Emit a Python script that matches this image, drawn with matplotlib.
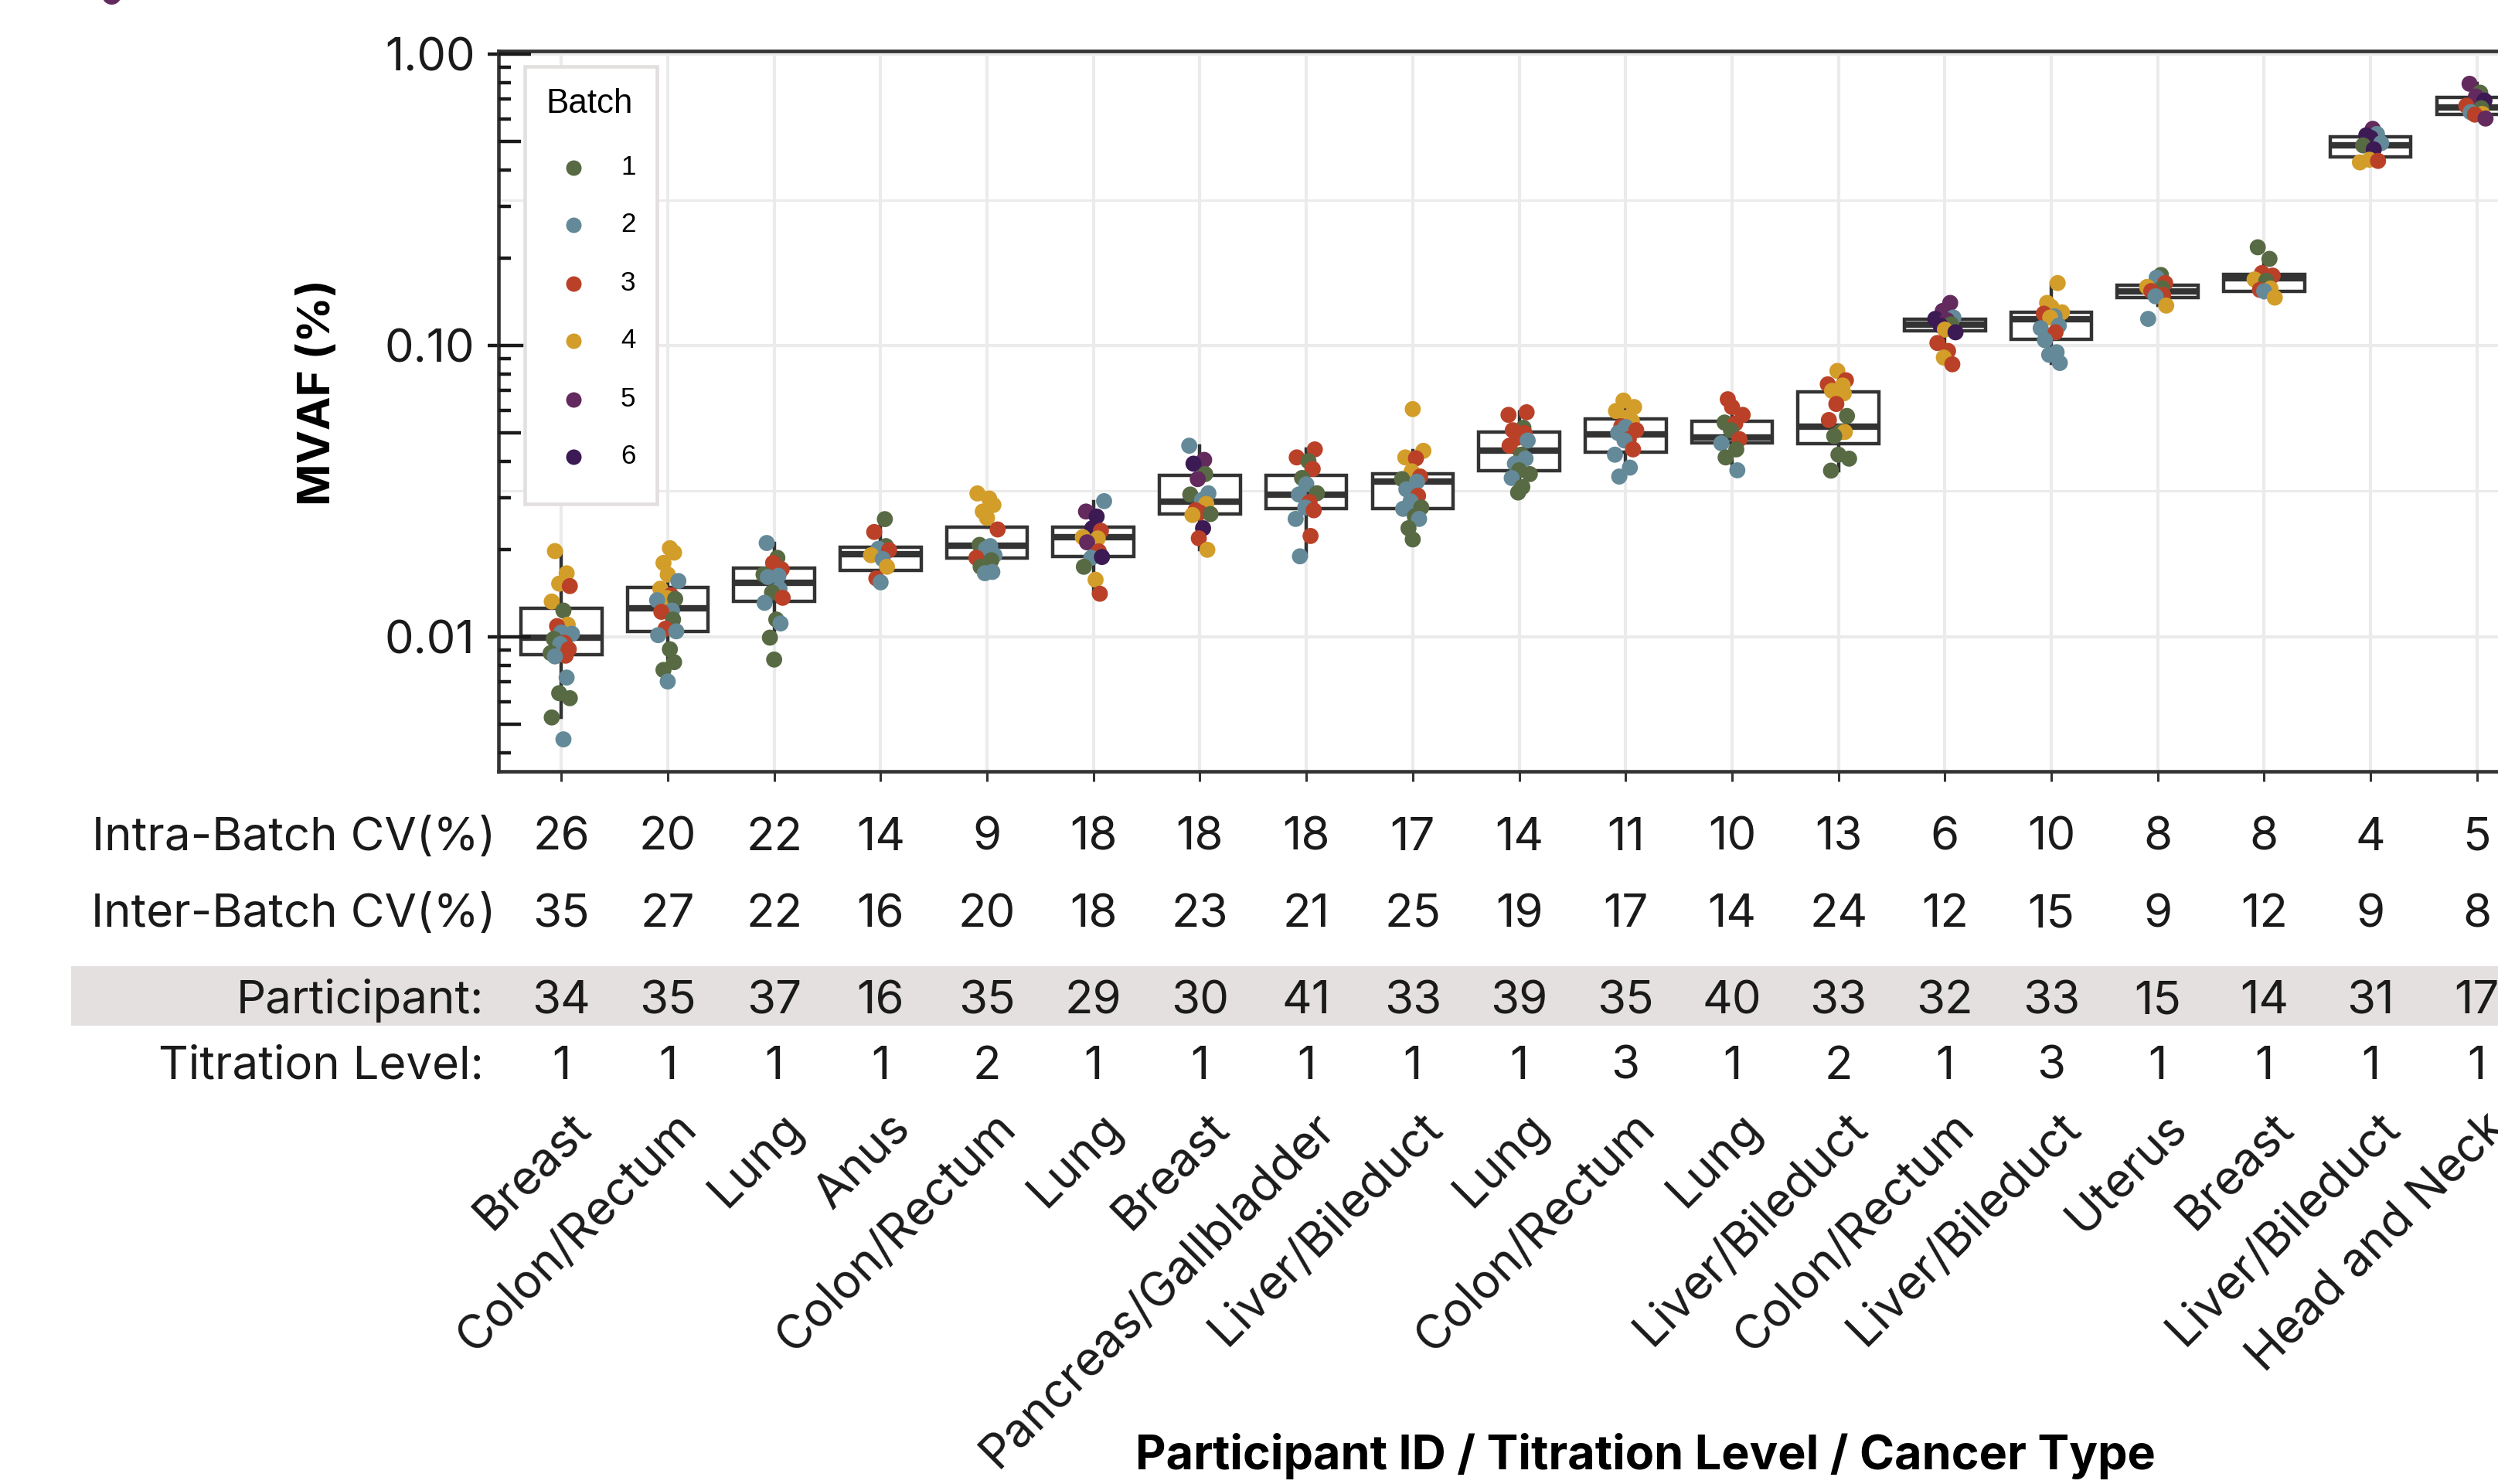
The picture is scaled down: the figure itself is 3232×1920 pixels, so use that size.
import matplotlib
matplotlib.use("Agg")
import matplotlib.pyplot as plt
from matplotlib.patches import Rectangle
from matplotlib.lines import Line2D
from matplotlib.ticker import FixedLocator, NullFormatter
from matplotlib.transforms import blended_transform_factory

W, H, DPI = 3232, 1920, 200
FONT = "Inter"
LEG_FONT = "Liberation Sans"
INK = "#1a1a1a"
DARK = "#333333"
GRID = "#ebebeb"

# ---- per-participant summary table ----
cancer_types = ["Breast", "Colon/Rectum", "Lung", "Anus", "Colon/Rectum", "Lung",
                "Breast", "Pancreas/Gallbladder", "Liver/Bileduct", "Lung",
                "Colon/Rectum", "Lung", "Liver/Bileduct", "Colon/Rectum",
                "Liver/Bileduct", "Uterus", "Breast", "Liver/Bileduct", "Head and Neck"]
participants = [34, 35, 37, 16, 35, 29, 30, 41, 33, 39, 35, 40, 33, 32, 33, 15, 14, 31, 17]
titration = [1, 1, 1, 1, 2, 1, 1, 1, 1, 1, 3, 1, 2, 1, 3, 1, 1, 1, 1]
intra_cv = [26, 20, 22, 14, 9, 18, 18, 18, 17, 14, 11, 10, 13, 6, 10, 8, 8, 4, 5]
inter_cv = [35, 27, 22, 16, 20, 18, 23, 21, 25, 19, 17, 14, 24, 12, 15, 9, 12, 9, 8]

# ---- replicate MVAF (%) measurements and their batch ----
mvaf_points = [
    [0.0197, 0.01653, 0.01523, 0.01494, 0.01322, 0.01231, 0.01101, 0.01089, 0.01035, 0.01025,
     0.00984, 0.00954, 0.00945, 0.00907, 0.00880, 0.00862, 0.00857, 0.00725, 0.00641, 0.00616,
     0.00529, 0.00445],
    [0.02015, 0.01946, 0.01794, 0.01637, 0.01555, 0.01463, 0.01390, 0.0136, 0.01349, 0.01336,
     0.01231, 0.01219, 0.01147, 0.01067, 0.01045, 0.01014, 0.00907, 0.00819, 0.00770, 0.00703],
    [0.0210, 0.01868, 0.01794, 0.01706, 0.01637, 0.01621, 0.01605, 0.01463, 0.01420, 0.01362,
     0.01309, 0.01147, 0.01112, 0.00994, 0.00836],
    [0.02536, 0.02291, 0.02049, 0.02006, 0.01986, 0.01907, 0.01849, 0.01740, 0.01588, 0.01539],
    [0.03107, 0.02985, 0.02836, 0.02693, 0.02561, 0.02337, 0.02069, 0.02049, 0.02006, 0.01907,
     0.01868, 0.01832, 0.01740, 0.01671, 0.01654],
    [0.02923, 0.02693, 0.02588, 0.02361, 0.02313, 0.02199, 0.02177, 0.02111, 0.01966, 0.01868,
     0.0188, 0.01740, 0.01571, 0.01406],
    [0.0453, 0.0405, 0.0393, 0.0362, 0.0348, 0.0311, 0.0308, 0.0295, 0.0286, 0.0272,
     0.0267, 0.0264, 0.0262, 0.0236, 0.0218, 0.0199],
    [0.0440, 0.0413, 0.0401, 0.0377, 0.0351, 0.0334, 0.0311, 0.0308, 0.0290, 0.0278,
     0.0272, 0.0254, 0.0222, 0.0189],
    [0.0605, 0.0435, 0.0413, 0.0410, 0.0370, 0.0355, 0.0348, 0.0341, 0.0321, 0.0305,
     0.0292, 0.0278, 0.0275, 0.0259, 0.0254, 0.0236, 0.0216],
    [0.0590, 0.0578, 0.0522, 0.0512, 0.0501, 0.0482, 0.0472, 0.0453, 0.0422, 0.0409,
     0.0393, 0.0373, 0.0362, 0.0351, 0.0327, 0.0313],
    [0.0647, 0.0615, 0.0596, 0.0567, 0.0550, 0.0528, 0.0525, 0.0512, 0.0501, 0.0477,
     0.0472, 0.0440, 0.0422, 0.0381, 0.0355],
    [0.0654, 0.0615, 0.0578, 0.0544, 0.0539, 0.0512, 0.0477, 0.0462, 0.0440, 0.0413, 0.0373],
    [0.0818, 0.0760, 0.0736, 0.0729, 0.0699, 0.0685, 0.0630, 0.0573, 0.0555, 0.0505,
     0.0505, 0.0489, 0.0422, 0.0409, 0.0372],
    [0.140, 0.1314, 0.1247, 0.1234, 0.1220, 0.1182, 0.1170, 0.1134, 0.1110, 0.1020,
     0.0958, 0.0909, 0.0862],
    [0.1638, 0.140, 0.1356, 0.1300, 0.1286, 0.1259, 0.1247, 0.1170, 0.1146, 0.1110,
     0.1043, 0.0948, 0.0929, 0.0871],
    [0.1746, 0.1709, 0.1638, 0.1588, 0.1572, 0.1538, 0.1490, 0.1475, 0.1371, 0.1234],
    [0.2173, 0.1983, 0.1773, 0.1737, 0.1685, 0.1668, 0.1568, 0.1552, 0.1536, 0.1460],
    [0.554, 0.532, 0.5265, 0.516, 0.495, 0.486, 0.471, 0.434, 0.430, 0.425],
    [0.791, 0.737, 0.715, 0.693, 0.665, 0.652, 0.632, 0.623, 0.620, 0.601],
]
batch_points = [
    [4, 4, 4, 3, 4, 1, 4, 3, 2, 2, 1, 3, 2, 3, 1, 3, 2, 2, 1, 1, 1, 2],
    [4, 4, 4, 4, 2, 4, 3, 4, 1, 2, 2, 3, 1, 3, 2, 2, 1, 1, 1, 2],
    [2, 1, 3, 3, 1, 2, 2, 2, 1, 3, 2, 1, 2, 1, 1],
    [1, 3, 1, 2, 3, 4, 2, 4, 3, 2],
    [4, 4, 4, 4, 4, 3, 1, 2, 2, 2, 3, 1, 1, 2, 2],
    [2, 5, 6, 6, 3, 4, 4, 5, 3, 2, 6, 1, 4, 3],
    [2, 5, 6, 1, 5, 2, 1, 2, 4, 3, 3, 1, 4, 6, 3, 4],
    [3, 3, 1, 3, 1, 2, 1, 2, 3, 2, 3, 2, 3, 2],
    [4, 4, 4, 3, 4, 3, 1, 2, 2, 3, 2, 1, 2, 1, 2, 1, 1],
    [3, 3, 1, 3, 3, 3, 2, 3, 1, 2, 2, 1, 1, 2, 1, 1],
    [4, 4, 4, 4, 4, 3, 2, 3, 2, 3, 2, 3, 2, 2, 2],
    [3, 3, 3, 1, 3, 1, 3, 2, 1, 1, 2],
    [4, 3, 3, 4, 4, 4, 3, 1, 3, 1, 4, 1, 1, 1, 1],
    [5, 5, 2, 6, 5, 1, 6, 4, 6, 3, 3, 4, 3],
    [4, 4, 4, 4, 3, 2, 4, 2, 2, 3, 2, 2, 2, 2],
    [1, 2, 3, 4, 1, 3, 3, 2, 4, 2],
    [1, 1, 3, 3, 4, 1, 4, 3, 2, 4],
    [5, 2, 6, 6, 2, 1, 6, 4, 3, 4],
    [5, 1, 5, 6, 3, 1, 2, 4, 3, 5],
]

# ---- box summaries (lower whisker, Q1, median, Q3, upper whisker) ----
whisk_lo = [0.00529, 0.00703, 0.0099, 0.0154, 0.0165, 0.01406, 0.0199, 0.0189, 0.0216, 0.0313,
            0.0355, 0.0373, 0.0372, 0.1020, 0.0871, 0.1371, 0.1460, 0.425, 0.601]
box_q1 = [0.00871, 0.01045, 0.01322, 0.01687, 0.01868, 0.01888, 0.0264, 0.0275, 0.0275, 0.0371,
          0.0431, 0.0462, 0.0461, 0.1122, 0.1047, 0.1460, 0.1536, 0.443, 0.620]
box_med = [0.00994, 0.01256, 0.01534, 0.01919, 0.02056, 0.02199, 0.0292, 0.0308, 0.0342, 0.0437,
           0.0496, 0.0482, 0.0526, 0.1180, 0.1234, 0.1538, 0.1701, 0.485, 0.655]
box_q3 = [0.01256, 0.01479, 0.01722, 0.0203, 0.02387, 0.02387, 0.0358, 0.0358, 0.0362, 0.0504,
          0.0561, 0.0550, 0.0692, 0.1234, 0.1300, 0.1614, 0.1754, 0.521, 0.710]
whisk_hi = [0.0197, 0.0201, 0.0210, 0.0254, 0.0311, 0.0292, 0.0453, 0.0440, 0.0435, 0.0590,
            0.0647, 0.0654, 0.0818, 0.1400, 0.1638, 0.1746, 0.1983, 0.554, 0.791]

batch_labels = [1, 2, 3, 4, 5, 6]
batch_colors = ["#576a43", "#648998", "#ba4128", "#d39d2a", "#632a5e", "#3c1a54"]

jitter_pattern = [-0.06, 0.05, -0.02, 0.08, -0.09, 0.02, 0.06, -0.04, 0.00, 0.10,
                  -0.07, 0.03, -0.01, 0.07, -0.10, 0.04]


def fx(px):
    return px / W


def fy(py):
    return 1 - py / H


fig = plt.figure(figsize=(W / DPI, H / DPI), dpi=DPI)
fig.patch.set_facecolor("white")

ax_left, ax_top, ax_bottom = 645, 66, 998
x_lo, x_hi = -0.59, 20.6
unit_px = 137.7
ax_right = ax_left + (x_hi - x_lo) * unit_px
ax = fig.add_axes([fx(ax_left), fy(ax_bottom), (ax_right - ax_left) / W,
                   (ax_bottom - ax_top) / H])

n = len(participants)
positions = list(range(n))

# boxes
stats = []
for i in range(n):
    stats.append(dict(med=box_med[i], q1=box_q1[i], q3=box_q3[i],
                      whislo=whisk_lo[i], whishi=whisk_hi[i], fliers=[]))
ax.bxp(stats, positions=positions, widths=0.76, showfliers=False, showcaps=False,
       patch_artist=True, manage_ticks=False,
       boxprops=dict(facecolor="white", edgecolor=DARK, linewidth=1.6),
       medianprops=dict(color=DARK, linewidth=3.0, solid_capstyle="butt"),
       whiskerprops=dict(color=DARK, linewidth=1.6),
       zorder=2)

# jittered replicate points
for i in range(n):
    vals = mvaf_points[i]
    bats = batch_points[i]
    xs = [i + jitter_pattern[(k + i * 5) % len(jitter_pattern)] for k in range(len(vals))]
    cols = [batch_colors[b - 1] for b in bats]
    ax.scatter(xs, vals, s=56, c=cols, edgecolors="none", zorder=3)

ax.set_yscale("log")
ax.set_ylim(10 ** ((70 - ax_bottom) / 377), 10 ** ((70 - ax_top) / 377))
ax.set_xlim(x_lo, x_hi)

# grid and ticks
ax.set_axisbelow(True)
ax.xaxis.set_major_locator(FixedLocator(positions))
ax.xaxis.set_major_formatter(NullFormatter())
ax.yaxis.set_major_locator(FixedLocator([0.01, 0.1, 1.0]))
ax.yaxis.set_minor_locator(FixedLocator([10 ** -2.5, 10 ** -1.5, 10 ** -0.5]))
ax.yaxis.set_minor_formatter(NullFormatter())
ax.set_yticklabels(["0.01", "0.10", "1.00"])
ax.grid(True, which="major", axis="both", color=GRID, lw=1.5)
ax.grid(True, which="minor", axis="y", color=GRID, lw=1.1)
ax.tick_params(axis="y", which="minor", length=0)
ax.tick_params(axis="y", which="major", direction="out", length=5, width=1.6,
               color=INK, pad=6, labelsize=21.5, labelcolor=INK)
ax.tick_params(axis="x", which="major", direction="out", length=4.6, width=1.1,
               color=DARK)
for lab in ax.get_yticklabels():
    lab.set_fontfamily(FONT)

for side in ["top", "left", "bottom", "right"]:
    ax.spines[side].set_color(DARK)
    ax.spines[side].set_linewidth(1.65)

# log ticks along the inside of the left spine
ax_w_px = ax_right - ax_left
ytrans = ax.get_yaxis_transform()
ymin, ymax = ax.get_ylim()
for dec in [-3, -2, -1, 0]:
    for m in range(1, 10):
        v = m * 10.0 ** dec
        if not (ymin <= v <= ymax):
            continue
        L = 42 if m == 1 else (29 if m == 5 else 16)
        ax.add_line(Line2D([0, L / ax_w_px], [v, v], transform=ytrans, color=INK,
                           lw=1.6, solid_capstyle="butt", clip_on=False, zorder=4))

# y axis title
fig.text(fx(412), fy(508), "MVAF (%)", rotation=90, ha="center", va="center",
         fontsize=21, fontweight="bold", family=FONT, color="black")

# table under the axis
tx = blended_transform_factory(ax.transData, fig.transFigure)
band = Rectangle((fx(92), fy(1327)), 1 - fx(92), (1327 - 1250) / H,
                 transform=fig.transFigure, facecolor="#e4e0e0", edgecolor="none",
                 zorder=0)
fig.add_artist(band)

rows = [("Intra-Batch CV(%)", intra_cv, 1100, 641),
        ("Inter-Batch CV(%)", inter_cv, 1199, 641),
        ("Participant:", participants, 1311, 626),
        ("Titration Level:", titration, 1396, 626)]
for label, values, ypx, xr in rows:
    fig.text(fx(xr), fy(ypx), label, ha="right", va="baseline", fontsize=21.6,
             family=FONT, color=INK, zorder=2)
    for i, v in enumerate(values):
        ax.text(i, fy(ypx), str(v), transform=tx, ha="center", va="baseline",
                fontsize=21.6, family=FONT, color=INK, clip_on=False)

for i, name in enumerate(cancer_types):
    ax.text(i + 0.06, fy(1430), name, transform=tx, rotation=45, ha="right", va="top",
            rotation_mode="anchor", fontsize=22, family=FONT, color=INK, clip_on=False)

fig.text(fx(2129), fy(1884), "Participant ID / Titration Level / Cancer Type",
         ha="center", va="center", fontsize=22, fontweight="bold", family=FONT,
         color="black")

# batch legend
leg_frame = Rectangle((fx(679), fy(652)), (850 - 679) / W, (652 - 86) / H,
                      transform=fig.transFigure, facecolor="white",
                      edgecolor="#e3dfdf", lw=1.65, zorder=5)
fig.add_artist(leg_frame)
fig.text(fx(706), fy(134), "Batch", ha="left", va="center", fontsize=15.8,
         family=LEG_FONT, color="black", zorder=6)
for b, col, ypx in zip(batch_labels, batch_colors, [217, 291, 367, 441, 517, 591]):
    fig.add_artist(Line2D([fx(742)], [fy(ypx)], transform=fig.transFigure,
                          marker="o", markersize=7.2, color=col, lw=0,
                          markeredgewidth=0, zorder=6))
    fig.text(fx(803), fy(ypx), str(b), ha="left", va="center", fontsize=12.6,
             family=LEG_FONT, color="black", zorder=6)

# edge of a neighbouring panel's marker at the top-left corner
fig.add_artist(Line2D([fx(143.5)], [fy(-7)], transform=fig.transFigure, marker="o",
                      markersize=9, color="#632a5e", lw=0, markeredgewidth=0,
                      clip_on=False, zorder=6))

fig.savefig("out.png", dpi=DPI)
